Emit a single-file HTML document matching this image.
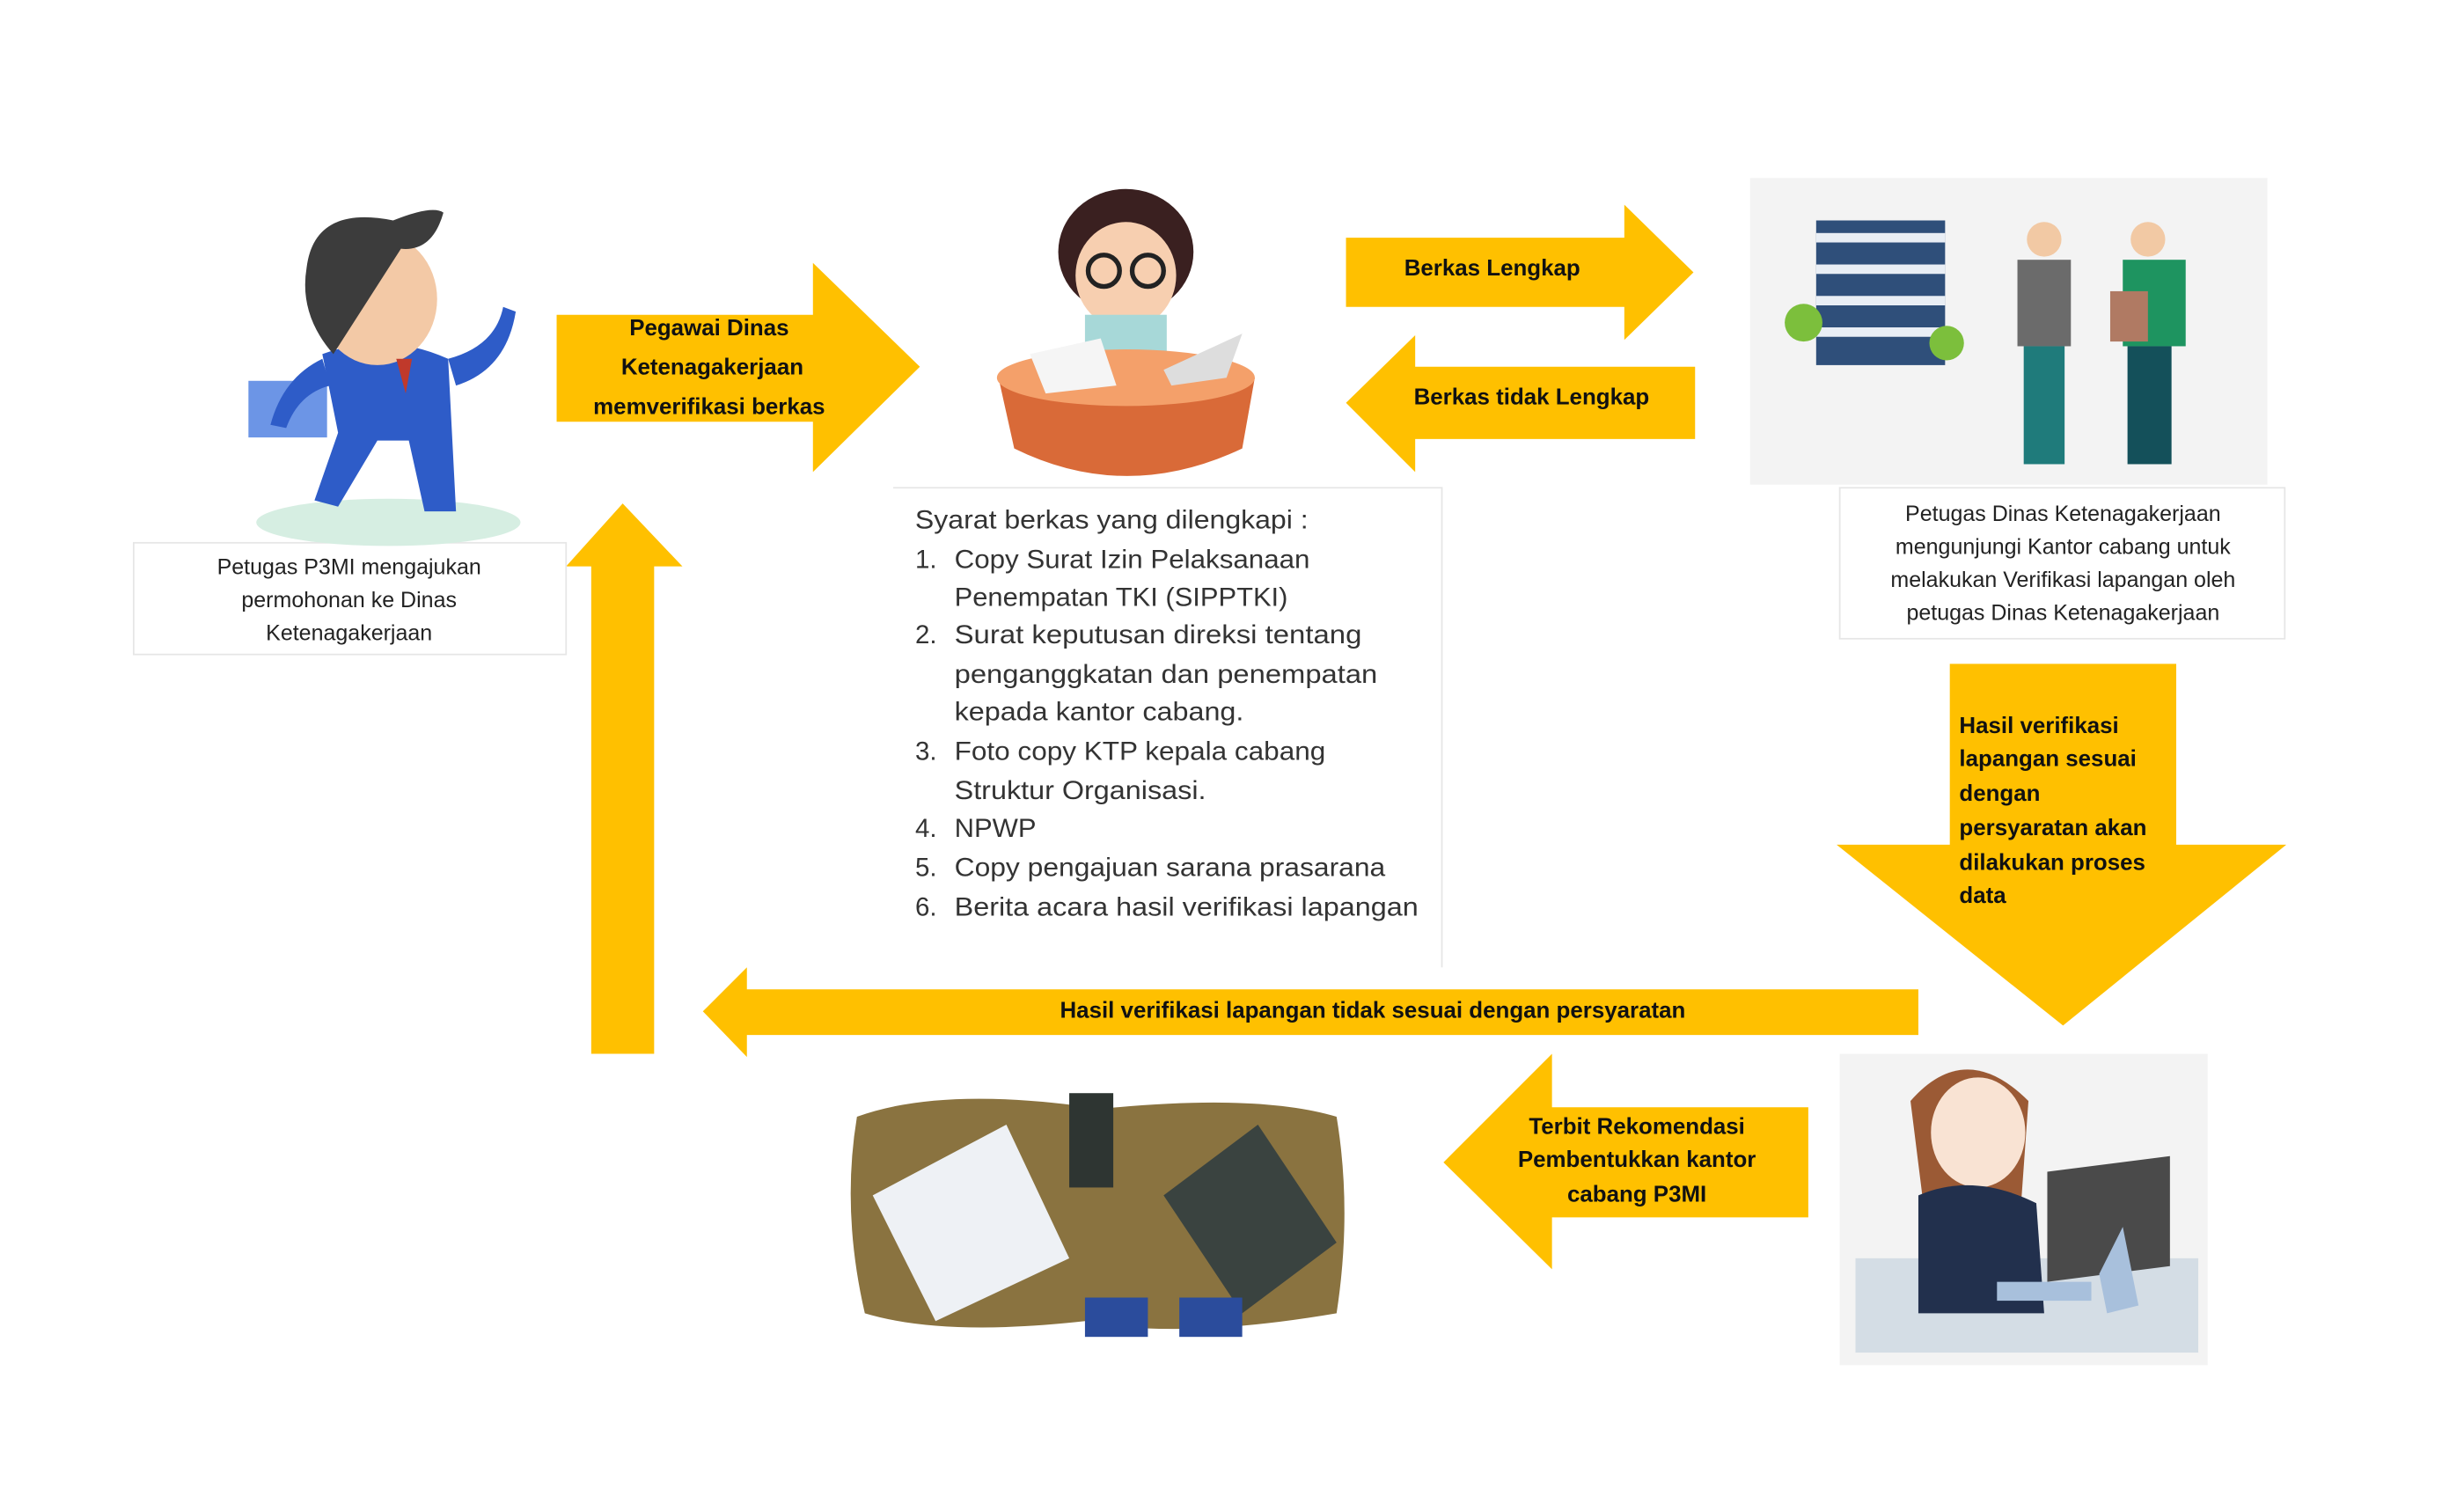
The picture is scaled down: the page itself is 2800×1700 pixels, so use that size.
<!DOCTYPE html>
<html><head><meta charset="utf-8"><style>
html,body{margin:0;padding:0;background:#fff;width:2800px;height:1700px;overflow:hidden}
svg{display:block}
.b{font-family:"Liberation Sans",sans-serif;font-weight:bold;fill:#111;font-size:14.5px}
.c{font-family:"Liberation Sans",sans-serif;fill:#222;font-size:14px}
.l{font-family:"Liberation Sans",sans-serif;fill:#333;font-size:16.5px}
</style></head><body>
<svg width="2800" height="1700" viewBox="0 0 1567 951" xmlns="http://www.w3.org/2000/svg">
<rect width="1567" height="951" fill="#fff"/>
<g fill="#FFC000">
<polygon points="354,200 517,200 517,167 585,233 517,300 517,268 354,268"/>
<polygon points="856,151 1033,151 1033,130 1077,173 1033,216 1033,195 856,195"/>
<polygon points="1078,233 900,233 900,213 856,256 900,300 900,279 1078,279"/>
<polygon points="1240,422 1384,422 1384,537 1454,537 1312,652 1168,537 1240,537"/>
<polygon points="1220,629 475,629 475,615 447,643 475,672 475,658 1220,658"/>
<polygon points="376,670 416,670 416,360 434,360 396,320 360,360 376,360"/>
<polygon points="1150,704 987,704 987,670 918,739 987,807 987,774 1150,774"/>
</g>
<rect x="85" y="345" width="275" height="71" fill="#fff" stroke="#e6e6e6"/>
<path d="M568,310 H917 V615" fill="none" stroke="#e6e6e6"/>
<rect x="1170" y="310" width="283" height="96" fill="#fff" stroke="#e6e6e6"/>
<g class="b" text-anchor="middle">
<text x="451" y="213">Pegawai Dinas</text>
<text x="453" y="238">Ketenagakerjaan</text>
<text x="451" y="263">memverifikasi berkas</text>
<text x="949" y="175">Berkas Lengkap</text>
<text x="974" y="257">Berkas tidak Lengkap</text>
<text x="873" y="647">Hasil  verifikasi lapangan tidak  sesuai dengan persyaratan</text>
<text x="1041" y="721">Terbit Rekomendasi</text>
<text x="1041" y="742">Pembentukkan kantor</text>
<text x="1041" y="764">cabang P3MI</text>
</g>
<g class="b">
<text x="1246" y="466">Hasil  verifikasi</text>
<text x="1246" y="487">lapangan sesuai</text>
<text x="1246" y="509">dengan</text>
<text x="1246" y="531">persyaratan akan</text>
<text x="1246" y="553">dilakukan proses</text>
<text x="1246" y="574">data</text>
</g>
<g class="c" text-anchor="middle">
<text x="222" y="365">Petugas P3MI mengajukan</text>
<text x="222" y="386">permohonan ke Dinas</text>
<text x="222" y="407">Ketenagakerjaan</text>
<text x="1312" y="331">Petugas Dinas Ketenagakerjaan</text>
<text x="1312" y="352">mengunjungi Kantor cabang untuk</text>
<text x="1312" y="373">melakukan Verifikasi lapangan oleh</text>
<text x="1312" y="394">petugas Dinas Ketenagakerjaan</text>
</g>
<g class="l">
<text x="582" y="336" textLength="250" lengthAdjust="spacingAndGlyphs">Syarat berkas yang dilengkapi :</text>
<text x="582" y="361">1.</text><text x="607" y="361" textLength="226" lengthAdjust="spacingAndGlyphs">Copy Surat Izin Pelaksanaan</text>
<text x="607" y="385" textLength="212" lengthAdjust="spacingAndGlyphs">Penempatan TKI (SIPPTKI)</text>
<text x="582" y="409">2.</text><text x="607" y="409" textLength="259" lengthAdjust="spacingAndGlyphs">Surat keputusan direksi tentang</text>
<text x="607" y="434" textLength="269" lengthAdjust="spacingAndGlyphs">penganggkatan dan penempatan</text>
<text x="607" y="458" textLength="184" lengthAdjust="spacingAndGlyphs">kepada kantor cabang.</text>
<text x="582" y="483">3.</text><text x="607" y="483" textLength="236" lengthAdjust="spacingAndGlyphs">Foto copy KTP kepala cabang</text>
<text x="607" y="508" textLength="160" lengthAdjust="spacingAndGlyphs">Struktur Organisasi.</text>
<text x="582" y="532">4.</text><text x="607" y="532" textLength="52" lengthAdjust="spacingAndGlyphs">NPWP</text>
<text x="582" y="557">5.</text><text x="607" y="557" textLength="274" lengthAdjust="spacingAndGlyphs">Copy pengajuan sarana prasarana</text>
<text x="582" y="582">6.</text><text x="607" y="582" textLength="295" lengthAdjust="spacingAndGlyphs">Berita acara hasil verifikasi lapangan</text>
</g>
<ellipse cx="247" cy="332" rx="84" ry="15" fill="#d6eee2"/>
<rect x="158" y="242" width="50" height="36" fill="#6c95e6"/>
<path d="M205,225 Q245,210 285,228 L290,325 L270,325 L260,280 L240,280 L215,322 L200,318 L215,275 Z" fill="#2e5cc8"/>
<path d="M285,228 Q315,220 320,195 L328,198 Q322,235 290,245 Z" fill="#2e5cc8"/>
<path d="M205,228 Q180,240 172,270 L182,272 Q190,250 210,245 Z" fill="#2e5cc8"/>
<ellipse cx="240" cy="190" rx="38" ry="42" fill="#f3c9a6"/>
<path d="M195,170 Q200,130 250,140 Q275,130 282,135 Q275,160 255,158 L212,225 Q190,200 195,170 Z" fill="#3c3c3c"/>
<polygon points="252,228 262,228 258,250" fill="#c0392b"/>
<ellipse cx="716" cy="160" rx="43" ry="40" fill="#3a2020"/>
<ellipse cx="716" cy="175" rx="32" ry="34" fill="#f7cfb0"/>
<circle cx="702" cy="172" r="10" fill="none" stroke="#222" stroke-width="3"/>
<circle cx="730" cy="172" r="10" fill="none" stroke="#222" stroke-width="3"/>
<rect x="690" y="200" width="52" height="40" fill="#a7d8d8"/>
<path d="M635,240 Q716,205 798,240 L790,285 Q716,320 645,285 Z" fill="#d96a38"/>
<ellipse cx="716" cy="240" rx="82" ry="18" fill="#f4a06a"/>
<polygon points="655,225 700,215 710,245 665,250" fill="#f5f5f5"/>
<polygon points="740,235 790,212 780,240 745,245" fill="#ddd"/>
<rect x="1113" y="113" width="329" height="195" fill="#f3f3f3"/>
<rect x="1155" y="140" width="82" height="92" fill="#2f4f7a"/>
<g fill="#e9eef5"><rect x="1155" y="148" width="82" height="6"/><rect x="1155" y="168" width="82" height="6"/><rect x="1155" y="188" width="82" height="6"/><rect x="1155" y="208" width="82" height="6"/></g>
<circle cx="1147" cy="205" r="12" fill="#7cbf3c"/><circle cx="1238" cy="218" r="11" fill="#7cbf3c"/>
<circle cx="1300" cy="152" r="11" fill="#f2c9a4"/><rect x="1283" y="165" width="34" height="55" fill="#6b6b6b"/><rect x="1287" y="220" width="26" height="75" fill="#1f7b7b"/>
<circle cx="1366" cy="152" r="11" fill="#f2c9a4"/><rect x="1350" y="165" width="40" height="55" fill="#1e9460"/><rect x="1353" y="220" width="28" height="75" fill="#14505a"/>
<rect x="1342" y="185" width="24" height="32" fill="#b07a63"/>
<path d="M545,710 Q600,690 700,705 Q800,695 850,710 Q860,770 850,835 Q750,852 690,840 Q600,850 550,835 Q535,770 545,710 Z" fill="#8a7340"/>
<polygon points="555,760 640,715 680,800 595,840" fill="#eef1f5"/>
<polygon points="740,760 800,715 850,790 790,835" fill="#3a4340"/>
<rect x="680" y="695" width="28" height="60" fill="#2e3532"/>
<rect x="690" y="825" width="40" height="25" fill="#2b4c9c"/>
<rect x="750" y="825" width="40" height="25" fill="#2b4c9c"/>
<rect x="1170" y="670" width="234" height="198" fill="#f3f3f3"/>
<rect x="1180" y="800" width="218" height="60" fill="#d4dde5"/>
<path d="M1215,700 Q1250,660 1290,700 L1285,770 L1225,780 Z" fill="#9b5a35"/>
<ellipse cx="1258" cy="720" rx="30" ry="35" fill="#f9e3d3"/>
<path d="M1220,760 Q1255,745 1295,765 L1300,835 L1220,835 Z" fill="#22304d"/>
<polygon points="1302,745 1380,735 1380,805 1302,815" fill="#4a4a4a"/>
<polygon points="1335,810 1350,780 1360,830 1340,835" fill="#a8c0dc"/>
<rect x="1270" y="815" width="60" height="12" fill="#a8c0dc"/>
</svg>
</body></html>
